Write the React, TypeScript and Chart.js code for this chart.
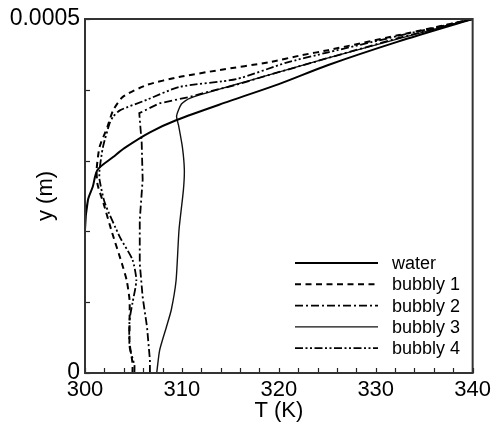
import React, { useEffect, useRef } from 'react';
import { Chart, registerables } from 'chart.js';

Chart.register(...registerables);

// ---- data (T in K, y in m) ----
const waterT = [300, 300, 300.3, 300.8, 301.3, 302.9, 304.1, 306.7, 309.4, 314.9, 320.0, 325.1, 332.3, 340];
const waterY = [0, 2.02e-4, 2.44e-4, 2.63e-4, 2.87e-4, 3.05e-4, 3.18e-4, 3.4e-4, 3.57e-4, 3.84e-4, 4.08e-4, 4.35e-4, 4.68e-4, 5.0e-4];

const bubbly1T = [304.9, 304.9, 304.6, 304.6, 304.6, 304.3, 303.8, 302.8, 301.9, 301.3, 301.2, 301.5, 302.3, 302.9, 303.9, 306.4, 309.7, 313.9, 319.0, 322.4, 325.1, 332.3, 340];
const bubbly1Y = [0, 0.14e-4, 0.42e-4, 0.75e-4, 1.03e-4, 1.31e-4, 1.55e-4, 1.98e-4, 2.4e-4, 2.66e-4, 2.87e-4, 3.19e-4, 3.47e-4, 3.71e-4, 3.9e-4, 4.07e-4, 4.18e-4, 4.28e-4, 4.39e-4, 4.49e-4, 4.56e-4, 4.77e-4, 5.0e-4];

const bubbly2T = [306.7, 306.7, 306.4, 305.95, 305.65, 305.65, 305.95, 305.85, 305.6, 307.7, 310.8, 312.1, 315.6, 319.0, 325.1, 332.3, 340];
const bubbly2Y = [0, 0.18e-4, 0.65e-4, 1.07e-4, 1.55e-4, 2.16e-4, 2.73e-4, 3.25e-4, 3.67e-4, 3.81e-4, 3.9e-4, 3.95e-4, 4.07e-4, 4.21e-4, 4.45e-4, 4.73e-4, 5.0e-4];

const bubbly3T = [307.4, 307.7, 308.4, 308.9, 309.4, 309.7, 310.15, 310.25, 310.05, 309.65, 309.45, 309.95, 310.8, 314.9, 319.0, 325.1, 332.3, 340];
const bubbly3Y = [0, 0.32e-4, 0.65e-4, 0.89e-4, 1.31e-4, 2.02e-4, 2.58e-4, 2.87e-4, 3.19e-4, 3.5e-4, 3.63e-4, 3.8e-4, 3.88e-4, 4.05e-4, 4.21e-4, 4.45e-4, 4.72e-4, 5.0e-4];

const bubbly4T = [305.1, 305.1, 304.6, 304.6, 304.9, 305.3, 304.9, 303.6, 302.05, 301.5, 301.5, 301.85, 302.55, 302.9, 303.6, 306.4, 309.7, 315.6, 320.7, 325.1, 332.3, 340];
const bubbly4Y = [0, 0.11e-4, 0.37e-4, 0.75e-4, 0.99e-4, 1.31e-4, 1.6e-4, 1.92e-4, 2.4e-4, 2.73e-4, 2.87e-4, 3.19e-4, 3.53e-4, 3.62e-4, 3.71e-4, 3.86e-4, 4.04e-4, 4.15e-4, 4.38e-4, 4.53e-4, 4.76e-4, 5.0e-4];

const seriesLabels = ['water', 'bubbly 1', 'bubbly 2', 'bubbly 3', 'bubbly 4'];
const xMin = 300, xMax = 340, xStep = 2, xLabelEvery = 10;
const yMin = 0, yMax = 0.0005, yStep = 0.0001;
const yLabelValues = [0, 0.0005];
const yLabelTexts = ['0', '0.0005'];

const FONT = '"Liberation Sans", Arial, Helvetica, sans-serif';

function pts(t: number[], y: number[]) {
  return t.map((v, i) => ({ x: v, y: y[i] }));
}

const framePlugin = {
  id: 'frameAndLegend',
  afterDraw(chart: any) {
    const { ctx, chartArea: a } = chart;
    const xs = chart.scales.x;
    const ys = chart.scales.y;
    ctx.save();
    // inward ticks
    ctx.strokeStyle = '#222';
    ctx.lineWidth = 1.2;
    ctx.setLineDash([]);
    xs.ticks.forEach((t: any) => {
      const px = Math.round(xs.getPixelForValue(t.value)) + 0.5;
      ctx.beginPath();
      ctx.moveTo(px, a.bottom);
      ctx.lineTo(px, a.bottom - 5);
      ctx.stroke();
    });
    ys.ticks.forEach((t: any) => {
      const py = Math.round(ys.getPixelForValue(t.value)) + 0.5;
      ctx.beginPath();
      ctx.moveTo(a.left, py);
      ctx.lineTo(a.left + 5, py);
      ctx.stroke();
    });
    // frame
    ctx.strokeStyle = '#333';
    ctx.lineWidth = 2;
    ctx.strokeRect(a.left, a.top, a.right - a.left, a.bottom - a.top);
    // legend
    chart.data.datasets.forEach((ds: any, i: number) => {
      const y = a.top + 244 + i * 21.3;
      ctx.setLineDash(ds.borderDash || []);
      ctx.lineWidth = ds.borderWidth;
      ctx.strokeStyle = ds.borderColor;
      ctx.beginPath();
      ctx.moveTo(a.left + 210, y);
      ctx.lineTo(a.left + 293, y);
      ctx.stroke();
      ctx.setLineDash([]);
      ctx.fillStyle = '#000';
      ctx.font = `18px ${FONT}`;
      ctx.textBaseline = 'middle';
      ctx.textAlign = 'left';
      ctx.fillText(ds.label, a.left + 307, y + 1);
    });
    ctx.restore();
  },
};

export default function App() {
  const ref = useRef<HTMLCanvasElement | null>(null);
  useEffect(() => {
    if (!ref.current) return;
    const styles = [
      { w: 2, dash: [] as number[], color: '#000', tension: 0.3 },
      { w: 2, dash: [6, 4.5], color: '#000', tension: 0.2 },
      { w: 1.8, dash: [8, 3, 2, 3], color: '#000', tension: 0 },
      { w: 1.4, dash: [] as number[], color: '#111', tension: 0.2 },
      { w: 1.8, dash: [8, 2.5, 2, 2.5, 2, 2.5], color: '#000', tension: 0.2 },
    ];
    const series = [
      pts(waterT, waterY),
      pts(bubbly1T, bubbly1Y),
      pts(bubbly2T, bubbly2Y),
      pts(bubbly3T, bubbly3Y),
      pts(bubbly4T, bubbly4Y),
    ];
    const chart = new Chart(ref.current, {
      type: 'line',
      data: {
        datasets: series.map((d, i) => ({
          label: seriesLabels[i],
          data: d,
          borderColor: styles[i].color,
          borderWidth: styles[i].w,
          borderDash: styles[i].dash,
          tension: styles[i].tension,
          pointRadius: 0,
          fill: false,
        })),
      },
      options: {
        responsive: false,
        animation: false,
        layout: { padding: { left: 0, right: 20, top: 19, bottom: 0 } },
        plugins: { legend: { display: false }, tooltip: { enabled: false } },
        scales: {
          x: {
            type: 'linear',
            min: xMin,
            max: xMax,
            grid: { drawOnChartArea: false, drawTicks: false },
            border: { display: false },
            afterFit: (s: any) => { s.height = 52; },
            ticks: {
              stepSize: xStep,
              autoSkip: false,
              maxRotation: 0,
              padding: 4,
              color: '#000',
              font: { family: FONT, size: 22 },
              callback: (v: any) => (Math.abs(v % xLabelEvery) < 1e-9 ? String(v) : ''),
            },
            title: {
              display: true,
              text: 'T (K)',
              color: '#000',
              font: { family: FONT, size: 22 },
              padding: { top: 0, bottom: 1 },
            },
          },
          y: {
            type: 'linear',
            min: yMin,
            max: yMax,
            grid: { drawOnChartArea: false, drawTicks: false },
            border: { display: false },
            afterFit: (s: any) => { s.width = 85; },
            ticks: {
              stepSize: yStep,
              autoSkip: false,
              padding: 5,
              color: '#000',
              font: { family: FONT, size: 23 },
              callback: (v: any) => {
                const idx = yLabelValues.findIndex((lv) => Math.abs(lv - v) < 1e-9);
                return idx >= 0 ? yLabelTexts[idx] : '';
              },
            },
            title: {
              display: true,
              text: 'y (m)',
              color: '#000',
              font: { family: FONT, size: 22 },
              padding: { top: 33, bottom: 0 },
            },
          },
        },
      },
      plugins: [framePlugin],
    } as any);
    return () => chart.destroy();
  }, []);
  return (
    <div style={{ position: 'absolute', left: 0, top: 0, width: 495, height: 425, background: '#fff' }}>
      <canvas ref={ref} width={495} height={425} style={{ display: 'block' }} />
    </div>
  );
}
